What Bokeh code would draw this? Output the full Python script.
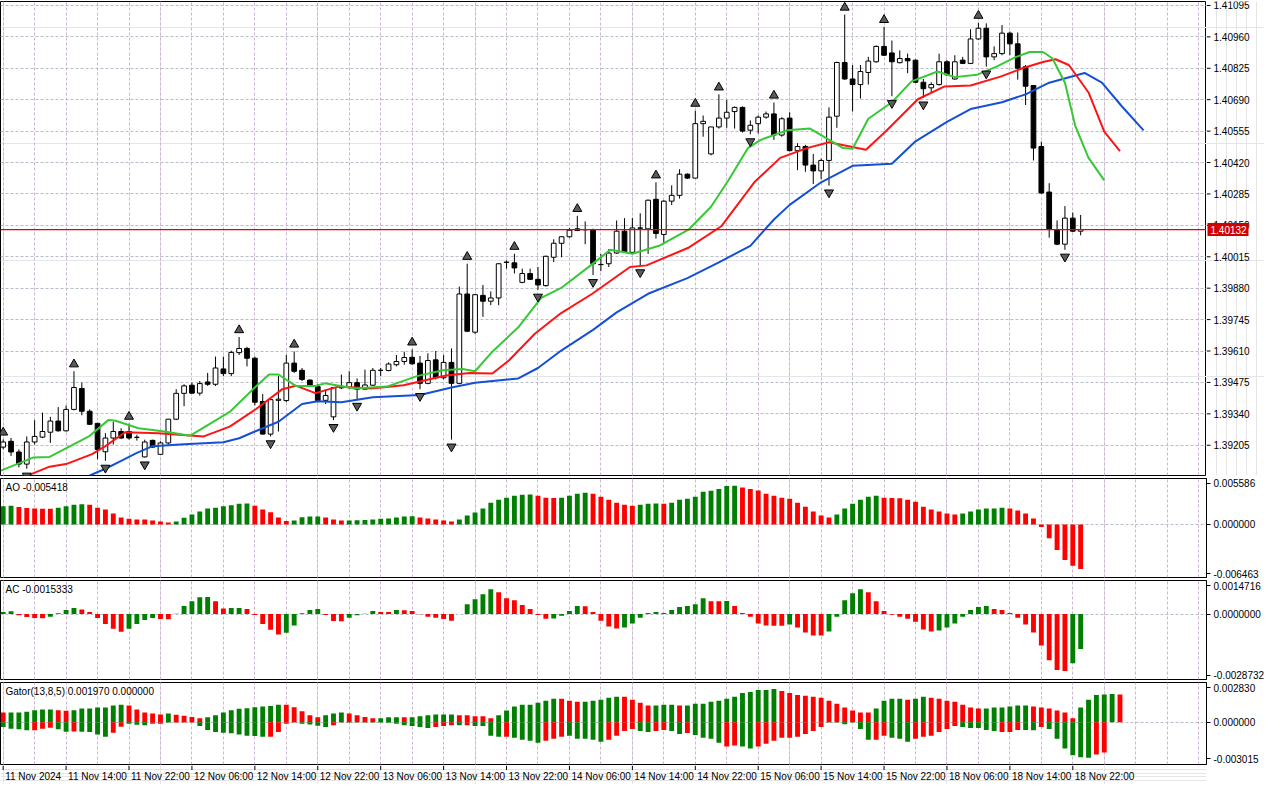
from bokeh.plotting import figure
from bokeh.layouts import column, row
from bokeh.models import (Range1d, FixedTicker, CustomJSTickFormatter, Label,
                          ColumnDataSource, Grid)
from bokeh.core.properties import value
from bokeh.embed import file_html
from bokeh.resources import INLINE

FONT = "Liberation Sans"
GREEN = "#008000"
RED = "#ff0000"

# ---------------- price data (H1 bars, index 0 = 11 Nov 06:00) ----------------
opens = [1.39197, 1.39222, 1.39176, 1.39124, 1.39219, 1.39240, 1.39261, 1.39309, 1.39267, 1.39359,
         1.39449, 1.39351, 1.39299, 1.39177, 1.39236, 1.39264, 1.39264, 1.39239, 1.39155, 1.39226,
         1.39166, 1.39215, 1.39317, 1.39428, 1.39463, 1.39429, 1.39477, 1.39467, 1.39533, 1.39513,
         1.39603, 1.39621, 1.39579, 1.39393, 1.39253, 1.39398, 1.39397, 1.39558, 1.39527, 1.39485,
         1.39457, 1.39398, 1.39327, 1.39453, 1.39453, 1.39474, 1.39446, 1.39463, 1.39527, 1.39526,
         1.39551, 1.39565, 1.39583, 1.39558, 1.39471, 1.39572, 1.39495, 1.39561, 1.39471, 1.39855,
         1.39691, 1.39849, 1.39824, 1.39838, 1.39992, 1.39989, 1.39905, 1.39943, 1.39918, 1.39891,
         1.40013, 1.40073, 1.40101, 1.40135, 1.40132, 1.40132, 1.39982, 1.39985, 1.40031, 1.40125,
         1.40034, 1.40139, 1.40135, 1.40262, 1.40111, 1.40254, 1.40279, 1.40370, 1.40353, 1.40587,
         1.40457, 1.40573, 1.40611, 1.40639, 1.40657, 1.40559, 1.40587, 1.40615, 1.40629, 1.40538,
         1.40611, 1.40471, 1.40489, 1.40409, 1.40384, 1.40429, 1.40619, 1.40850, 1.40779, 1.40755,
         1.40807, 1.40853, 1.40919, 1.40891, 1.40849, 1.40867, 1.40860, 1.40765, 1.40741, 1.40755,
         1.40853, 1.40779, 1.40860, 1.40846, 1.40951, 1.40997, 1.40874, 1.40888, 1.40976, 1.40930,
         1.40832, 1.40751, 1.40489, 1.40293, 1.40132, 1.40069, 1.40181, 1.40125]
highs = [1.39230, 1.39236, 1.39187, 1.39243, 1.39313, 1.39345, 1.39327, 1.39369, 1.39376, 1.39523,
         1.39474, 1.39359, 1.39302, 1.39257, 1.39306, 1.39278, 1.39298, 1.39250, 1.39229, 1.39229,
         1.39222, 1.39317, 1.39446, 1.39467, 1.39474, 1.39481, 1.39516, 1.39586, 1.39586, 1.39611,
         1.39670, 1.39628, 1.39586, 1.39425, 1.39404, 1.39502, 1.39593, 1.39608, 1.39537, 1.39488,
         1.39467, 1.39445, 1.39453, 1.39509, 1.39523, 1.39492, 1.39530, 1.39537, 1.39537, 1.39561,
         1.39593, 1.39607, 1.39617, 1.39589, 1.39600, 1.39610, 1.39593, 1.39621, 1.39887, 1.39985,
         1.39855, 1.39894, 1.39866, 1.39985, 1.39999, 1.40028, 1.39964, 1.39964, 1.39971, 1.40020,
         1.40090, 1.40104, 1.40139, 1.40191, 1.40167, 1.40136, 1.40027, 1.40048, 1.40171, 1.40181,
         1.40181, 1.40202, 1.40261, 1.40335, 1.40258, 1.40322, 1.40391, 1.40373, 1.40643, 1.40622,
         1.40573, 1.40713, 1.40689, 1.40661, 1.40661, 1.40601, 1.40622, 1.40639, 1.40678, 1.40615,
         1.40636, 1.40503, 1.40496, 1.40457, 1.40437, 1.40657, 1.40853, 1.41056, 1.40839, 1.40839,
         1.40874, 1.40923, 1.41003, 1.40944, 1.40902, 1.40888, 1.40863, 1.40779, 1.40765, 1.40888,
         1.40860, 1.40881, 1.40874, 1.40993, 1.41021, 1.41018, 1.40919, 1.41011, 1.40983, 1.40979,
         1.40839, 1.40753, 1.40510, 1.40331, 1.40171, 1.40233, 1.40205, 1.40195]
lows = [1.39188, 1.39159, 1.39110, 1.39104, 1.39208, 1.39236, 1.39215, 1.39264, 1.39264, 1.39355,
        1.39334, 1.39292, 1.39145, 1.39138, 1.39208, 1.39233, 1.39229, 1.39225, 1.39152, 1.39194,
        1.39166, 1.39208, 1.39313, 1.39373, 1.39425, 1.39418, 1.39460, 1.39460, 1.39502, 1.39502,
        1.39593, 1.39544, 1.39376, 1.39250, 1.39243, 1.39264, 1.39390, 1.39516, 1.39481, 1.39457,
        1.39390, 1.39382, 1.39313, 1.39446, 1.39446, 1.39404, 1.39446, 1.39460, 1.39502, 1.39523,
        1.39544, 1.39551, 1.39551, 1.39446, 1.39467, 1.39488, 1.39488, 1.39229, 1.39467, 1.39691,
        1.39684, 1.39757, 1.39807, 1.39807, 1.39964, 1.39943, 1.39901, 1.39915, 1.39873, 1.39887,
        1.39992, 1.40013, 1.40097, 1.40125, 1.40069, 1.39936, 1.39953, 1.39971, 1.40027, 1.40031,
        1.40027, 1.39978, 1.40027, 1.40093, 1.40069, 1.40237, 1.40265, 1.40349, 1.40353, 1.40531,
        1.40451, 1.40566, 1.40569, 1.40566, 1.40549, 1.40541, 1.40545, 1.40608, 1.40517, 1.40531,
        1.40468, 1.40387, 1.40380, 1.40328, 1.40349, 1.40321, 1.40569, 1.40775, 1.40639, 1.40695,
        1.40755, 1.40849, 1.40878, 1.40705, 1.40846, 1.40804, 1.40762, 1.40699, 1.40720, 1.40751,
        1.40793, 1.40776, 1.40843, 1.40843, 1.40947, 1.40832, 1.40860, 1.40881, 1.40881, 1.40776,
        1.40667, 1.40429, 1.40286, 1.40097, 1.40065, 1.40045, 1.40121, 1.40107]
closes = [1.39219, 1.39176, 1.39124, 1.39219, 1.39243, 1.39264, 1.39309, 1.39267, 1.39359, 1.39453,
          1.39351, 1.39295, 1.39187, 1.39236, 1.39264, 1.39236, 1.39236, 1.39239, 1.39219, 1.39197,
          1.39215, 1.39317, 1.39428, 1.39460, 1.39429, 1.39470, 1.39467, 1.39537, 1.39513, 1.39604,
          1.39621, 1.39579, 1.39390, 1.39253, 1.39401, 1.39403, 1.39558, 1.39523, 1.39488, 1.39460,
          1.39397, 1.39419, 1.39453, 1.39452, 1.39474, 1.39446, 1.39464, 1.39527, 1.39527, 1.39554,
          1.39565, 1.39582, 1.39555, 1.39471, 1.39569, 1.39495, 1.39561, 1.39471, 1.39855, 1.39695,
          1.39852, 1.39824, 1.39838, 1.39985, 1.39991, 1.39967, 1.39943, 1.39918, 1.39894, 1.40017,
          1.40073, 1.40101, 1.40129, 1.40128, 1.40131, 1.39985, 1.39981, 1.40031, 1.40125, 1.40034,
          1.40139, 1.40138, 1.40258, 1.40115, 1.40254, 1.40279, 1.40370, 1.40353, 1.40587, 1.40597,
          1.40573, 1.40611, 1.40636, 1.40657, 1.40555, 1.40580, 1.40615, 1.40629, 1.40538, 1.40608,
          1.40471, 1.40489, 1.40409, 1.40384, 1.40429, 1.40615, 1.40850, 1.40779, 1.40755, 1.40811,
          1.40856, 1.40919, 1.40881, 1.40853, 1.40867, 1.40857, 1.40765, 1.40737, 1.40755, 1.40853,
          1.40797, 1.40853, 1.40846, 1.40951, 1.40997, 1.40874, 1.40888, 1.40976, 1.40930, 1.40825,
          1.40748, 1.40482, 1.40289, 1.40132, 1.40069, 1.40181, 1.40125, 1.40132]

fractal_up = [0, 9, 16, 30, 37, 52, 59, 65, 73, 83, 88, 91, 98, 107, 112, 124]
fractal_down = [3, 13, 18, 34, 42, 45, 53, 57, 68, 75, 81, 95, 105, 113, 117, 125, 135]

# Alligator lines (bar position, price)
jaw_x = [11, 13, 15, 17, 19, 23, 28, 30, 32, 35, 38, 40, 43, 47, 53, 57, 60, 65.5, 68, 71, 75, 78,
         82, 87, 91, 95, 98, 100, 104, 108, 113, 116, 120, 123, 127, 130, 133, 137.5, 139.7, 142.2, 145]
jaw_y = [1.39075, 1.39104, 1.39138, 1.39172, 1.39201, 1.39209, 1.39218, 1.39235, 1.39264, 1.39306,
         1.39382, 1.39394, 1.39390, 1.39411, 1.39421, 1.39453, 1.39474, 1.39492, 1.39537, 1.39613,
         1.39701, 1.39776, 1.39856, 1.39923, 1.39991, 1.40062, 1.40175, 1.40238, 1.40335, 1.40406,
         1.40415, 1.40511, 1.40595, 1.40650, 1.40679, 1.40713, 1.40763, 1.40805, 1.40763, 1.40663, 1.40558]
teeth_x = [3.4, 5.9, 8, 11.3, 13, 15.5, 19.7, 25.5, 28.8, 32.2, 35.5, 37.2, 39.7, 42.6, 46.8, 50.9,
           56.3, 59.3, 62.2, 64.3, 67.6, 70.9, 74.9, 79.7, 81.8, 87.2, 91.3, 95.5, 98.8, 102.2, 105,
           109.7, 112.2, 116.3, 119.7, 123, 126.8, 129.7, 132.2, 133.8, 135.5, 138, 140, 142]
teeth_y = [1.39079, 1.39113, 1.39124, 1.39167, 1.39201, 1.39261, 1.39257, 1.39243, 1.39285, 1.39362,
           1.39446, 1.39461, 1.39429, 1.39457, 1.39449, 1.39463, 1.39505, 1.39516, 1.39513, 1.39569,
           1.39684, 1.39772, 1.39856, 1.39971, 1.39978, 1.40055, 1.40146, 1.40335, 1.40440, 1.40482,
           1.40507, 1.40475, 1.40553, 1.40692, 1.40747, 1.40751, 1.40789, 1.40826, 1.40852, 1.40864,
           1.40839, 1.40721, 1.40553, 1.40469]
lips_x = [-0.3, 3.8, 5.9, 10.9, 13.4, 14.3, 17.2, 20.5, 23.8, 28.8, 32.2, 33.8, 35, 37.2, 39.7, 40.9,
          44.7, 48.8, 52.6, 55.9, 58.4, 60, 62.2, 65.5, 68.4, 70.9, 74.7, 77.2, 80, 83.4, 87.2, 90,
          92.2, 94.7, 96.3, 99.7, 102.6, 106.8, 108, 110, 113, 115.5, 118.8, 121, 123.8, 126.3,
          128.8, 130.5, 132.2, 133.4, 135, 136.3, 138, 140]
lips_y = [1.39096, 1.39152, 1.39155, 1.39243, 1.39314, 1.39310, 1.39278, 1.39264, 1.39246, 1.39348,
          1.39460, 1.39509, 1.39509, 1.39460, 1.39460, 1.39471, 1.39449, 1.39457, 1.39502, 1.39527,
          1.39533, 1.39523, 1.39607, 1.39712, 1.39838, 1.39880, 1.39978, 1.40045, 1.40028, 1.40062,
          1.40133, 1.40230, 1.40343, 1.40482, 1.40517, 1.40559, 1.40566, 1.40482, 1.40479, 1.40608,
          1.40679, 1.40769, 1.40811, 1.40787, 1.40797, 1.40832, 1.40874, 1.40895, 1.40895, 1.40868,
          1.40763, 1.40579, 1.40440, 1.40343]

price_ticks = [1.39205, 1.39340, 1.39475, 1.39610, 1.39745, 1.39880, 1.40015, 1.40150,
               1.40285, 1.40420, 1.40555, 1.40690, 1.40825, 1.40960, 1.41095]

# ---------------- oscillators ----------------
ao = [0.00220, 0.00228, 0.00212, 0.00200, 0.00192, 0.00191, 0.00190, 0.00204, 0.00220, 0.00240,
      0.00244, 0.00240, 0.00204, 0.00180, 0.00132, 0.00084, 0.00068, 0.00060, 0.00059, 0.00048,
      0.00036, 0.00024, 0.00036, 0.00080, 0.00120, 0.00156, 0.00192, 0.00204, 0.00220, 0.00232,
      0.00252, 0.00253, 0.00228, 0.00180, 0.00148, 0.00084, 0.00042, 0.00048, 0.00088, 0.00096,
      0.00097, 0.00084, 0.00060, 0.00046, 0.00048, 0.00049, 0.00052, 0.00060, 0.00070, 0.00072,
      0.00084, 0.00096, 0.00098, 0.00084, 0.00072, 0.00060, 0.00048, 0.00036, 0.00060, 0.00108,
      0.00144, 0.00192, 0.00264, 0.00300, 0.00324, 0.00348, 0.00360, 0.00364, 0.00348, 0.00324,
      0.00322, 0.00325, 0.00348, 0.00372, 0.00384, 0.00372, 0.00336, 0.00300, 0.00264, 0.00240,
      0.00228, 0.00240, 0.00252, 0.00254, 0.00252, 0.00264, 0.00300, 0.00312, 0.00336, 0.00396,
      0.00408, 0.00432, 0.00468, 0.00470, 0.00448, 0.00432, 0.00412, 0.00372, 0.00348, 0.00324,
      0.00312, 0.00264, 0.00216, 0.00156, 0.00108, 0.00084, 0.00120, 0.00192, 0.00252, 0.00300,
      0.00336, 0.00348, 0.00324, 0.00322, 0.00319, 0.00300, 0.00276, 0.00216, 0.00180, 0.00156,
      0.00132, 0.00120, 0.00132, 0.00156, 0.00180, 0.00192, 0.00194, 0.00204, 0.00192, 0.00168,
      0.00132, 0.00072, -0.00032, -0.00168, -0.00312, -0.00432, -0.00504, -0.005418]
ac = [0.000087, 0.000117, -0.000056, -0.000130, -0.000174, -0.000182, -0.000117, 0.000030, 0.000174, 0.000260,
      0.000204, 0.000087, -0.000174, -0.000434, -0.000651, -0.000781, -0.000651, -0.000434, -0.000260, -0.000174,
      -0.000217, -0.000226, 0.000009, 0.000347, 0.000564, 0.000738, 0.000746, 0.000564, 0.000239, 0.000260,
      0.000269, 0.000217, -0.000043, -0.000434, -0.000694, -0.000898, -0.000825, -0.000508, 0.000030, 0.000174,
      0.000217, -0.000043, -0.000304, -0.000312, -0.000161, -0.000056, 0.000013, 0.000130, 0.000087, 0.000086,
      0.000174, 0.000169, 0.000130, -0.000013, -0.000117, -0.000161, -0.000217, -0.000291, 0.000004, 0.000434,
      0.000651, 0.000868, 0.001085, 0.000955, 0.000694, 0.000608, 0.000391, 0.000217, -0.000043, -0.000204,
      -0.000195, -0.000074, 0.000130, 0.000347, 0.000343, 0.000087, -0.000291, -0.000551, -0.000638, -0.000595,
      -0.000421, -0.000161, 0.000043, 0.000087, 0.000043, 0.000174, 0.000304, 0.000347, 0.000434, 0.000694,
      0.000564, 0.000560, 0.000569, 0.000347, 0.000043, -0.000117, -0.000421, -0.000508, -0.000512, -0.000516,
      -0.000464, -0.000595, -0.000812, -0.000942, -0.000946, -0.000768, -0.000117, 0.000608, 0.000911, 0.001085,
      0.000955, 0.000564, 0.000130, -0.000030, -0.000117, -0.000204, -0.000334, -0.000681, -0.000768, -0.000725,
      -0.000595, -0.000421, -0.000117, 0.000174, 0.000304, 0.000347, 0.000217, 0.000174, 0.000043, -0.000161,
      -0.000464, -0.000812, -0.001376, -0.002027, -0.002461, -0.002504, -0.002157, -0.0015333]
gator_up = [0.000695, 0.000695, 0.000695, 0.000744, 0.000855, 0.000904, 0.000904, 0.000855, 0.000813, 0.000855,
            0.000973, 0.000973, 0.001043, 0.001049, 0.001182, 0.001251, 0.001182, 0.000904, 0.000695, 0.000626,
            0.000556, 0.000626, 0.000535, 0.000466, 0.000368, 0.000278, 0.000348, 0.000487, 0.000695, 0.000855,
            0.000952, 0.000994, 0.001063, 0.001112, 0.001161, 0.001251, 0.001251, 0.001063, 0.000785, 0.000487,
            0.000348, 0.000487, 0.000626, 0.000695, 0.000626, 0.000487, 0.000368, 0.000278, 0.000285, 0.000348,
            0.000348, 0.000348, 0.000348, 0.000417, 0.000487, 0.000556, 0.000556, 0.000556, 0.000487, 0.000487,
            0.000417, 0.000417, 0.000278, 0.000487, 0.000834, 0.001112, 0.001251, 0.001251, 0.001390, 0.001529,
            0.001668, 0.001668, 0.001529, 0.001460, 0.001460, 0.001529, 0.001599, 0.001738, 0.001807, 0.001807,
            0.001599, 0.001390, 0.001182, 0.001182, 0.001251, 0.001251, 0.001182, 0.001182, 0.001321, 0.001321,
            0.001460, 0.001529, 0.001668, 0.001807, 0.002085, 0.002155, 0.002294, 0.002294, 0.002363, 0.002224,
            0.002085, 0.001946, 0.001877, 0.001807, 0.001738, 0.001529, 0.001321, 0.001043, 0.000834, 0.000695,
            0.000695, 0.000973, 0.001529, 0.001668, 0.001668, 0.001599, 0.001668, 0.001807, 0.001738, 0.001668,
            0.001529, 0.001460, 0.001251, 0.001043, 0.000973, 0.000973, 0.001043, 0.001043, 0.001112, 0.001182,
            0.001195, 0.001112, 0.001043, 0.000973, 0.000834, 0.000695, 0.000278, 0.001043, 0.001599, 0.001946,
            0.001967, 0.002016, 0.001970]
gator_up_colors = ("RGGGGGGRRG" "GGGGGGRRRR" "RGRRRRGGGG" "GGGGGGRRRR" "RGGGRRRRGG"
                   "GRGGGGGGRR" "RRRGGGGGGG" "GRRRGGGGGR" "RRRGGGRGGG" "GGGGGGGGGR"
                   "RRRRRRRRRR" "RGGGGRGGRR" "RRRRRGGGGG" "GRRRRRRGGG" "GGR")
gator_down = [-0.000348, -0.000466, -0.000507, -0.000577, -0.000577, -0.000466, -0.000396, -0.000507, -0.000674, -0.000667,
              -0.000674, -0.000695, -0.000883, -0.001043, -0.000744, -0.000327, -0.000118, -0.000188, -0.000209, -0.000118,
              -0.000118, -0.000021, -0.000021, -0.000021, -0.000021, -0.000278, -0.000556, -0.000695, -0.000744, -0.000785,
              -0.000883, -0.000973, -0.000980, -0.001043, -0.001043, -0.000695, -0.000118, -0.000021, -0.000118, -0.000160,
              -0.000257, -0.000348, -0.000209, -0.000021, -0.000021, -0.000021, -0.000021, -0.000021, -0.000021, -0.000035,
              -0.000118, -0.000209, -0.000278, -0.000348, -0.000417, -0.000348, -0.000278, -0.000209, -0.000209, -0.000209,
              -0.000278, -0.000278, -0.000973, -0.001043, -0.001043, -0.001112, -0.001251, -0.001321, -0.001460, -0.001321,
              -0.001182, -0.001043, -0.000973, -0.001182, -0.001182, -0.001251, -0.001390, -0.001251, -0.000973, -0.000626,
              -0.000487, -0.000626, -0.000695, -0.000626, -0.000556, -0.000626, -0.000834, -0.000765, -0.000904, -0.001112,
              -0.001182, -0.001460, -0.001738, -0.001668, -0.001738, -0.001877, -0.001738, -0.001529, -0.001321, -0.001112,
              -0.001112, -0.001043, -0.000834, -0.000626, -0.000348, -0.000021, -0.000021, -0.000139, -0.000021, -0.000487,
              -0.001251, -0.001251, -0.000973, -0.001112, -0.001182, -0.001390, -0.001182, -0.001043, -0.000973, -0.000695,
              -0.000487, -0.000278, -0.000348, -0.000417, -0.000417, -0.000556, -0.000626, -0.000695, -0.000695, -0.000556,
              -0.000563, -0.000570, -0.000348, -0.000487, -0.001182, -0.001877, -0.002363, -0.002502, -0.002537, -0.002294,
              -0.002155]
gator_down_colors = ("GGGGRRRGGR" "GGGGRRGGGR" "RGRRRGGGGG" "GGGGRRRRGG" "GGRRGGGGGG"
                     "GGGGGRRRGR" "GGGGRGGGGR" "RRGGGGGRRR" "RGGRRGGRGG" "GGRRGGRRRR"
                     "RRRRRGGGGG" "GRRGGGRRRR" "RRGGGGGRRR" "GGRGGGGGGR" "R")

time_x = [0, 8, 16, 24, 32, 40, 48, 56, 64, 72, 80, 88, 96, 104, 112, 120, 128, 136]
time_labels = ["11 Nov 2024", "11 Nov 14:00", "11 Nov 22:00", "12 Nov 06:00", "12 Nov 14:00",
               "12 Nov 22:00", "13 Nov 06:00", "13 Nov 14:00", "13 Nov 22:00", "14 Nov 06:00",
               "14 Nov 14:00", "14 Nov 22:00", "15 Nov 06:00", "15 Nov 14:00", "15 Nov 22:00",
               "18 Nov 06:00", "18 Nov 14:00", "18 Nov 22:00"]

# ---------------- layout helpers ----------------
X0, X1 = -0.34, 153.0
x_range = Range1d(X0, X1)
FW = 1206
RB = 58
grid_x = list(range(0, 156, 4))
VGRID = "#cbb6cf"
HGRID = "#b6bec9"


def style_axis(ax):
    ax.axis_line_color = "black"
    ax.major_tick_out = 4
    ax.major_tick_in = 0
    ax.minor_tick_out = 0
    ax.minor_tick_in = 0
    ax.major_tick_line_color = "black"
    ax.major_label_text_font = FONT
    ax.major_label_text_font_size = "10px"
    ax.major_label_text_color = "black"
    ax.major_label_standoff = 3


def panel(fh, y0, y1, bottom=2, axis=True):
    p = figure(frame_width=FW, frame_height=fh, x_range=x_range, y_range=Range1d(y0, y1),
               output_backend="svg", toolbar_location=None,
               y_axis_location="right" if axis else None,
               x_axis_location=None, min_border_left=0, min_border_right=RB if axis else 0,
               min_border_top=1, min_border_bottom=bottom)
    p.outline_line_color = "black"
    p.outline_line_alpha = 1.0
    p.background_fill_color = "white"
    p.border_fill_color = "white"
    p.add_layout(Grid(dimension=0, ticker=FixedTicker(ticks=grid_x),
                      grid_line_color=VGRID, grid_line_dash="3 2"))
    if axis:
        p.ygrid.grid_line_color = HGRID
        p.ygrid.grid_line_dash = "3 2"
        style_axis(p.yaxis[0])
    return p


def title(p, text, ytop):
    p.add_layout(Label(x=X0, y=ytop, x_offset=5, y_offset=-3, text=text,
                       text_font=FONT, text_font_size="10px", text_color="black",
                       text_baseline="top", text_align="left"))


def fixed_axis(p, ticks, labels, grid_ticks):
    p.yaxis[0].ticker = FixedTicker(ticks=ticks)
    p.yaxis[0].formatter = CustomJSTickFormatter(args=dict(labels=labels), code="return labels[index];")
    p.ygrid[0].ticker = FixedTicker(ticks=grid_ticks)


def trend_colors(vals):
    out = [GREEN]
    for i in range(1, len(vals)):
        out.append(GREEN if vals[i] > vals[i - 1] else RED)
    return out


n = len(opens)
idx = list(range(n))

# ---------------- main price panel ----------------
P_LO, P_HI = 1.39075, 1.41112
MAIN_H = 474
pm = panel(MAIN_H, P_LO, P_HI, axis=False)
pm.add_layout(Grid(dimension=1, ticker=FixedTicker(ticks=price_ticks),
                   grid_line_color=HGRID, grid_line_dash="3 2"))

csrc = ColumnDataSource(dict(
    x=idx, h=highs, l=lows,
    top=[max(o, c) for o, c in zip(opens, closes)],
    bot=[min(o, c) for o, c in zip(opens, closes)],
    fill=["white" if c >= o else "black" for o, c in zip(opens, closes)],
))
pm.segment(x0="x", y0="l", x1="x", y1="h", source=csrc, line_color="black", line_width=1)
pm.vbar(x="x", width=0.6, top="top", bottom="bot", fill_color="fill",
        line_color="black", line_width=1, source=csrc)

pm.line(jaw_x, jaw_y, line_color="#1450d6", line_width=2)
pm.line(teeth_x, teeth_y, line_color="#ff1414", line_width=2)
pm.line(lips_x, lips_y, line_color="#36c836", line_width=2)

FR_OFF = 0.0003
pm.scatter(fractal_up, [highs[k] + FR_OFF for k in fractal_up], marker="triangle",
           size=9, fill_color="#5a5a5a", line_color="black", line_width=1)
pm.scatter(fractal_down, [lows[k] - FR_OFF for k in fractal_down],
           marker="inverted_triangle", size=9, fill_color="#5a5a5a", line_color="black", line_width=1)

# current (last close) price line across the whole chart
last = closes[-1]
pm.segment(x0=[X0], y0=[last], x1=[X1], y1=[last], line_color="#e60000", line_width=1.3)

# price scale strip to the right of the main panel (drawn as glyphs so the
# current-price box can sit on top of the scale)
pax = figure(frame_width=RB, frame_height=MAIN_H, x_range=Range1d(0, RB), y_range=pm.y_range,
             output_backend="svg", toolbar_location=None, x_axis_location=None,
             y_axis_location=None, min_border_left=0, min_border_right=0,
             min_border_top=1, min_border_bottom=2)
pax.outline_line_color = None
pax.background_fill_color = "white"
pax.border_fill_color = "white"
pax.segment(x0=[0] * len(price_ticks), y0=price_ticks, x1=[4] * len(price_ticks), y1=price_ticks,
            line_color="black", line_width=1)
pax.text(x=[7] * len(price_ticks), y=price_ticks, text=[f"{t:.5f}" for t in price_ticks],
         text_font=value(FONT), text_font_size="10px", text_color="black",
         text_align="left", text_baseline="middle")
half = (P_HI - P_LO) / MAIN_H * 6.5
pax.quad(left=[1], right=[42], top=[last + half], bottom=[last - half],
         fill_color="#d40000", line_color=None)
pax.text(x=[4], y=[last], text=[f"{last:.5f}"], text_font=value(FONT), text_font_size="10px",
         text_color="white", text_align="left", text_baseline="middle")

# ---------------- AO ----------------
AO_LO, AO_HI = -0.006463, 0.005586
pao = panel(99, AO_LO, AO_HI)
fixed_axis(pao, [-0.00598, 0.0, 0.00499], ["-0.006463", "0.000000", "0.005586"], [0.0])
pao.vbar(x=idx, width=0.62, top=ao, bottom=0, fill_color=trend_colors(ao), line_color=None)
title(pao, f"AO {ao[-1]:.6f}", AO_HI)

# ---------------- AC ----------------
AC_LO, AC_HI = -0.0028732, 0.0014716
pac = panel(99, AC_LO, AC_HI)
fixed_axis(pac, [-0.002678, 0.0, 0.001246], ["-0.0028732", "0.0000000", "0.0014716"], [0.0])
pac.vbar(x=idx, width=0.62, top=ac, bottom=0, fill_color=trend_colors(ac), line_color=None)
title(pac, f"AC {ac[-1]:.7f}", AC_HI)

# ---------------- Gator ----------------
G_LO, G_HI = -0.003015, 0.002830
pg = panel(82, G_LO, G_HI, bottom=1)
fixed_axis(pg, [-0.002613, 0.0, 0.00246], ["-0.003015", "0.000000", "0.002830"], [0.0])
cmap = {"G": GREEN, "R": RED}
pg.vbar(x=list(range(len(gator_up))), width=0.62, top=gator_up, bottom=0,
        fill_color=[cmap[c] for c in gator_up_colors], line_color=None)
pg.vbar(x=list(range(len(gator_down))), width=0.62, top=0, bottom=gator_down,
        fill_color=[cmap[c] for c in gator_down_colors], line_color=None)
title(pg, f"Gator(13,8,5) {gator_up[-1]:.6f} 0.000000", G_HI)

# ---------------- time axis strip ----------------
pt = figure(frame_width=FW, frame_height=19, x_range=x_range, y_range=Range1d(0, 1),
            output_backend="svg", toolbar_location=None, x_axis_location=None,
            y_axis_location=None, min_border_left=0, min_border_right=RB,
            min_border_top=0, min_border_bottom=0)
pt.outline_line_color = None
pt.background_fill_color = "white"
pt.border_fill_color = "white"
pt.segment(x0=time_x, y0=[1.0] * len(time_x), x1=time_x, y1=[0.76] * len(time_x),
           line_color="black", line_width=1)
pt.text(x=time_x, y=[0.42] * len(time_x), text=time_labels, text_font=value(FONT),
        text_font_size="10px", text_color="black", text_align="left",
        text_baseline="middle", x_offset=2)

layout = column(row(pm, pax, spacing=0), pao, pac, pg, pt, spacing=0)
open("out.html", "w").write(file_html(layout, INLINE))
